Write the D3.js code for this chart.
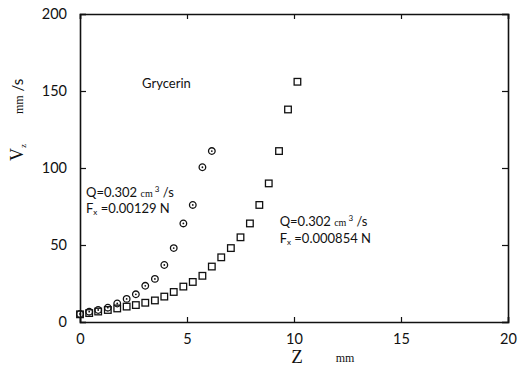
<!DOCTYPE html>
<html>
<head>
<meta charset="utf-8">
<script src="https://cdn.jsdelivr.net/npm/d3@7"></script>
<style>
  body { margin: 0; background: #fff; }
  text, tspan { fill: #111; }
</style>
</head>
<body>
<script>
// Z (mm) for each measured point, and Vz (mm/s)
var zCircle = [0, 0.43, 0.85, 1.3, 1.74, 2.18, 2.61, 3.05, 3.5, 3.94, 4.38, 4.83, 5.27, 5.72, 6.16];
var vCircle = [5.2, 6.7, 7.8, 9.3, 12, 15, 18, 23.5, 28, 37, 48, 64, 76, 100.5, 111];

var zSquare = [0, 0.43, 0.85, 1.3, 1.74, 2.18, 2.61, 3.05, 3.5, 3.94, 4.38, 4.83, 5.27, 5.72,
               6.16, 6.6, 7.05, 7.5, 7.94, 8.38, 8.82, 9.3, 9.72, 10.16];
var vSquare = [5, 5.8, 6.8, 7.8, 8.8, 10, 11, 12.5, 14, 16.5, 19.5, 23, 26, 30,
               36, 42, 48, 55, 64, 76, 90, 111, 138, 156];

var xTicks = [0, 5, 10, 15, 20];
var yTicks = [0, 50, 100, 150, 200];

window.onload = function() {
    var w = 519, h = 389;

    var svg = d3.select("body").append("svg")
        .attr("width", w)
        .attr("height", h)
        .style("background-color", "#fff");

    var x = d3.scaleLinear().domain([0, 20]).range([80, 508]);
    var y = d3.scaleLinear().domain([0, 200]).range([322, 14]);

    var font = "Lato, 'Open Sans', sans-serif";
    var serif = "'Liberation Serif', 'DejaVu Serif', serif";

    // bottom axis, ticks pointing in
    svg.append("g")
        .attr("transform", "translate(0," + y(0) + ")")
        .call(d3.axisBottom(x).tickValues(xTicks).tickSize(-5).tickPadding(12).tickFormat(d3.format("d")));
    // top axis, no labels
    svg.append("g")
        .attr("transform", "translate(0," + y(200) + ")")
        .call(d3.axisTop(x).tickValues(xTicks).tickSize(-5).tickFormat(""));
    // left axis
    svg.append("g")
        .attr("transform", "translate(" + x(0) + ",0)")
        .call(d3.axisLeft(y).tickValues(yTicks).tickSize(-6).tickPadding(13).tickFormat(d3.format("d")));
    // right axis
    svg.append("g")
        .attr("transform", "translate(" + x(20) + ",0)")
        .call(d3.axisRight(y).tickValues(yTicks).tickSize(-6).tickFormat(""));

    svg.selectAll(".domain").attr("stroke", "#111").attr("stroke-width", 1.6);
    svg.selectAll(".tick line").attr("stroke", "#111").attr("stroke-width", 1.2);
    svg.selectAll(".tick text")
        .style("font-family", font)
        .style("font-size", "14.5px")
        .attr("fill", "#111");

    // circles series
    var circ = svg.append("g").selectAll("g")
        .data(zCircle)
        .enter().append("g")
        .attr("transform", function(d, i) { return "translate(" + x(d) + "," + y(vCircle[i]) + ")"; });
    circ.append("circle")
        .attr("r", 3.3)
        .attr("fill", "none")
        .attr("stroke", "#111")
        .attr("stroke-width", 1.3);
    circ.append("circle")
        .attr("r", 0.9)
        .attr("fill", "#111");

    // squares series
    svg.append("g").selectAll("rect")
        .data(zSquare)
        .enter().append("rect")
        .attr("x", function(d) { return x(d) - 3.3; })
        .attr("y", function(d, i) { return y(vSquare[i]) - 3.3; })
        .attr("width", 6.6)
        .attr("height", 6.6)
        .attr("fill", "none")
        .attr("stroke", "#111")
        .attr("stroke-width", 1.3);

    // annotations
    svg.append("text")
        .attr("x", x(2.9)).attr("y", y(152))
        .style("font-family", font).style("font-size", "13px")
        .text("Grycerin");

    function note(zx, vq, vf, fval) {
        var q = svg.append("text")
            .attr("x", x(zx)).attr("y", y(vq))
            .style("font-family", font).style("font-size", "13px");
        q.append("tspan").text("Q=0.302  ");
        q.append("tspan").style("font-family", serif).style("font-size", "10px").text("cm");
        q.append("tspan").attr("dy", -5).style("font-size", "8px").text(" 3");
        q.append("tspan").attr("dy", 5).text(" /s");

        var f = svg.append("text")
            .attr("x", x(zx)).attr("y", y(vf))
            .style("font-family", font).style("font-size", "13px");
        f.append("tspan").text("F");
        f.append("tspan").attr("dy", 2).style("font-size", "8px").text("x");
        f.append("tspan").attr("dy", -2).text(" =" + fval + "  N");
    }
    note(0.28, 81, 70.8, "0.00129");
    note(9.33, 62.3, 51.3, "0.000854");

    // y label
    var yl = svg.append("text")
        .attr("transform", "translate(23,161) rotate(-90)")
        .style("font-family", serif)
        .style("font-size", "18px");
    yl.append("tspan").text("V");
    yl.append("tspan").attr("dy", 3).style("font-size", "9px").text("z");
    yl.append("tspan").attr("dy", -3).attr("dx", 30)
        .style("font-size", "12px").text("mm");
    yl.append("tspan").style("font-family", font).style("font-size", "15px").text(" /s");

    // x label
    svg.append("text")
        .attr("x", 297).attr("y", 363)
        .attr("text-anchor", "middle")
        .style("font-family", serif)
        .style("font-size", "19px")
        .text("Z");
    svg.append("text")
        .attr("x", 345).attr("y", 362)
        .attr("text-anchor", "middle")
        .style("font-family", serif)
        .style("font-size", "12px")
        .text("mm");
};
</script>
</body>
</html>
